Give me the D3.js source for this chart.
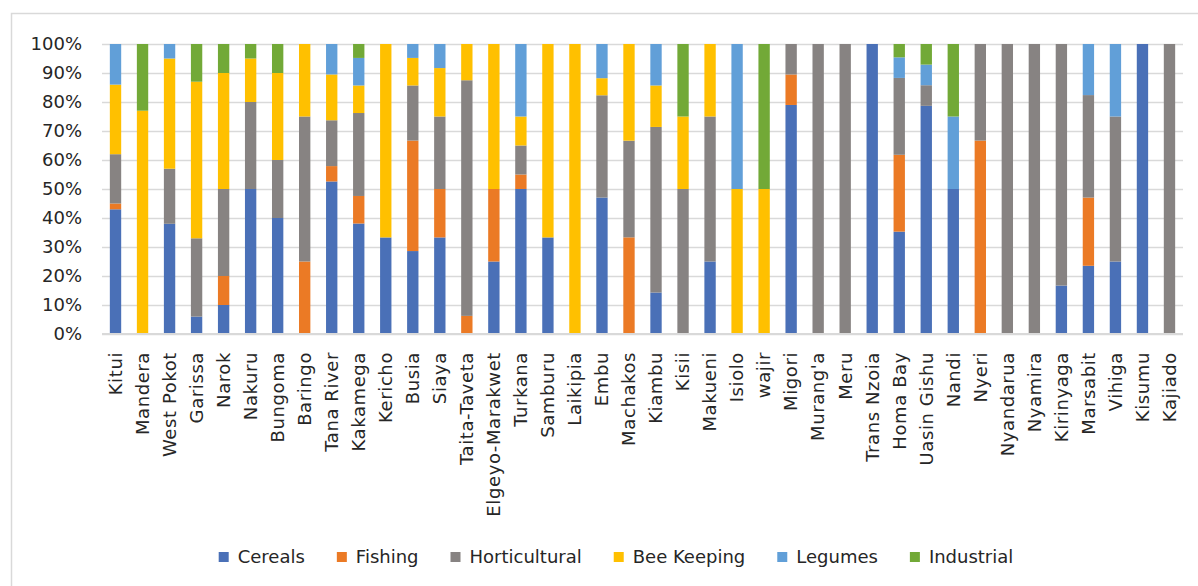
<!DOCTYPE html>
<html>
<head>
<meta charset="utf-8">
<script src="https://cdn.jsdelivr.net/npm/d3@7"></script>
<style>
  body { margin: 0; background: #fff; }
  text { font-family: "DejaVu Sans", sans-serif; fill: #262626; }
</style>
</head>
<body>
<div id="chart"></div>
<script>
var counties = ["Kitui","Mandera","West Pokot","Garissa","Narok","Nakuru","Bungoma","Baringo","Tana River","Kakamega",
  "Kericho","Busia","Siaya","Taita-Taveta","Elgeyo-Marakwet","Turkana","Samburu","Laikipia","Embu","Machakos",
  "Kiambu","Kisii","Makueni","Isiolo","wajir","Migori","Murang'a","Meru","Trans Nzoia","Homa Bay",
  "Uasin Gishu","Nandi","Nyeri","Nyandarua","Nyamira","Kirinyaga","Marsabit","Vihiga","Kisumu","Kajiado"];

var series = ["Cereals","Fishing","Horticultural","Bee Keeping","Legumes","Industrial"];

// percent shares per county, same order as counties
var cereals =       [43,0,38,6,10,50,40,0,52.6,38.1, 33.3,28.6,33.3,0,25,50,33.3,0,47.1,0, 14.3,0,25,0,0,78.9,0,0,100,35.3, 78.6,50,0,0,0,16.7,23.5,25,100,0];
var fishing =       [2,0,0,0,10,0,0,25,5.3,9.5, 0,38.1,16.7,6.25,25,5,0,0,0,33.3, 0,0,0,0,0,10.5,0,0,0,26.5, 0,0,66.7,0,0,0,23.5,0,0,0];
var horticultural = [17,0,19,27,30,30,20,50,15.8,28.6, 0,19,25,81.25,0,10,0,0,35.3,33.3, 57.1,50,50,0,0,10.5,100,100,0,26.5, 7.1,0,33.3,100,100,83.3,35.3,50,0,100];
var beeKeeping =    [24,77,38,54,40,15,30,25,15.8,9.5, 66.7,9.5,16.7,12.5,50,10,66.7,100,5.9,33.3, 14.3,25,25,50,50,0,0,0,0,0, 0,0,0,0,0,0,0,0,0,0];
var legumes =       [14,0,5,0,0,0,0,0,10.5,9.5, 0,4.8,8.3,0,0,25,0,0,11.8,0, 14.3,0,0,50,0,0,0,0,0,7.1, 7.1,25,0,0,0,0,17.6,25,0,0];
var industrial =    [0,23,0,13,10,5,10,0,0,4.8, 0,0,0,0,0,0,0,0,0,0, 0,25,0,0,50,0,0,0,0,4.6, 7.1,25,0,0,0,0,0,0,0,0];

var yTicks = [0,0.1,0.2,0.3,0.4,0.5,0.6,0.7,0.8,0.9,1];

var colors = ["#4A70B7","#EB7A25","#878382","#FFC000","#619FD8","#72A937"];

var W = 1198, H = 586;
var plot = {left: 102, right: 1183, top: 44, bottom: 334};

var rows = counties.map(function(c, i) {
  return {county: c, "Cereals": cereals[i], "Fishing": fishing[i], "Horticultural": horticultural[i],
    "Bee Keeping": beeKeeping[i], "Legumes": legumes[i], "Industrial": industrial[i]};
});

var stack = d3.stack().keys(series).offset(d3.stackOffsetExpand);
var layers = stack(rows);

var svg = d3.select("#chart").append("svg")
  .attr("width", W)
  .attr("height", H);

// chart frame
svg.append("rect")
  .attr("x", 11.5).attr("y", 13.5)
  .attr("width", W).attr("height", H)
  .attr("fill", "none").attr("stroke", "#d9d9d9").attr("stroke-width", 1.5);

var x = d3.scaleBand()
  .domain(counties)
  .range([plot.left, plot.right])
  .paddingInner(0.58)
  .paddingOuter(0.29);

var y = d3.scaleLinear()
  .domain([0, 1])
  .range([plot.bottom, plot.top]);

var color = d3.scaleOrdinal().domain(series).range(colors);

// gridlines + y labels
var yAxis = svg.append("g")
  .attr("transform", "translate(" + plot.left + ",0)")
  .call(d3.axisLeft(y).tickValues(yTicks).tickFormat(d3.format(".0%"))
    .tickSize(-(plot.right - plot.left)).tickPadding(20));
yAxis.select(".domain").remove();
yAxis.selectAll(".tick line").attr("stroke", "#d9d9d9").attr("stroke-width", 1.5);
yAxis.selectAll(".tick text").attr("font-size", 18).attr("font-family", "DejaVu Sans").attr("fill", "#262626");

// bars
svg.append("g").selectAll("g")
  .data(layers)
  .join("g")
  .attr("fill", function(d) { return color(d.key); })
  .selectAll("rect")
  .data(function(d) { return d; })
  .join("rect")
  .attr("x", function(d) { return x(d.data.county); })
  .attr("y", function(d) { return y(d[1]); })
  .attr("height", function(d) { return y(d[0]) - y(d[1]); })
  .attr("width", x.bandwidth());

// x axis baseline + labels
var xAxis = svg.append("g")
  .attr("transform", "translate(0," + plot.bottom + ")")
  .call(d3.axisBottom(x).tickSize(0).tickPadding(0));
xAxis.select(".domain").attr("stroke", "#d9d9d9").attr("stroke-width", 2)
  .attr("d", "M" + plot.left + ",0H" + plot.right);
xAxis.selectAll(".tick text")
  .attr("font-size", 18)
  .attr("font-family", "DejaVu Sans")
  .attr("fill", "#262626")
  .attr("letter-spacing", "0.6px")
  .attr("text-anchor", "end")
  .attr("dy", "0.35em")
  .attr("transform", "translate(0,18) rotate(-90)");

// legend
var legend = svg.append("g").attr("transform", "translate(0,557)");
var items = legend.selectAll("g").data(series).join("g");
items.append("rect")
  .attr("width", 10).attr("height", 10).attr("y", -5)
  .attr("fill", function(d) { return color(d); });
items.append("text")
  .attr("x", 19).attr("dy", "0.35em")
  .attr("font-size", 18)
  .text(function(d) { return d; });

var gap = 32;
var widths = [];
items.each(function() {
  var w = d3.select(this).select("text").node().getComputedTextLength();
  widths.push(19 + w);
});
var total = d3.sum(widths) + gap * (widths.length - 1);
var offs = 616 - total / 2;
items.attr("transform", function(d, i) {
  var t = "translate(" + offs + ",0)";
  offs += widths[i] + gap;
  return t;
});
</script>
</body>
</html>
